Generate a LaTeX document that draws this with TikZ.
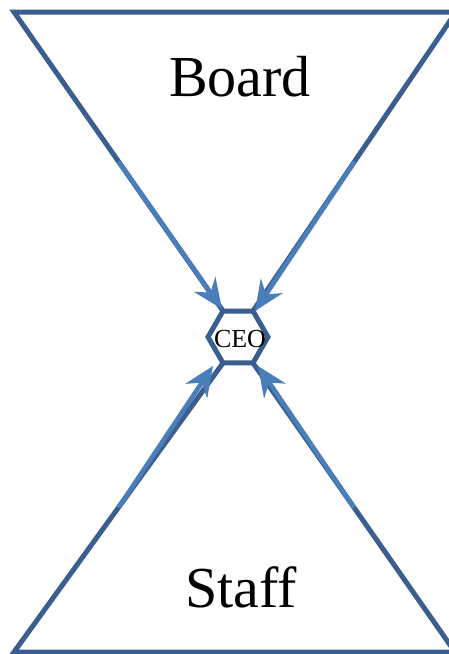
\documentclass[tikz,border=0pt]{standalone}
\usepackage{fontspec}
\setmainfont{Liberation Serif}
\usetikzlibrary{shapes.geometric,arrows.meta,calc}
\definecolor{edgeblue}{HTML}{3A5F8F}
\definecolor{arrowblue}{HTML}{4A7EBB}
\tikzset{
  edge/.style={draw=edgeblue,line width=5pt,line join=miter},
  flow/.style={draw=arrowblue,line width=4.6pt,-{Stealth[length=30pt,width=26pt,inset=10pt]}},
  hexbox/.style={regular polygon,regular polygon sides=6,minimum size=60pt,inner sep=0pt,draw=edgeblue,line width=5pt,fill=white},
  bigtext/.style={font=\fontsize{58}{60}\selectfont,anchor=base,inner sep=0pt},
  smalltext/.style={font=\fontsize{26}{28}\selectfont,anchor=base,inner sep=0pt}
}
\begin{document}
\begin{tikzpicture}[x=1pt,y=-1pt]
\useasboundingbox (0,0) rectangle (449,654);
\clip (0,0) rectangle (449,654);
% corners
\coordinate (tl) at (14,12);
\coordinate (tr) at (456,12);
\coordinate (bl) at (14,652);
\coordinate (br) at (455,652);
% hexagon vertices
\coordinate (htl) at (223,311);
\coordinate (htr) at (253,311);
\coordinate (hbl) at (223,363);
\coordinate (hbr) at (253,363);
% triangles
\path[edge] (htl) -- (tl) -- (tr) -- (htr);
\path[edge] (hbl) -- (bl) -- (br) -- (hbr);
% arrow starts and tips
\coordinate (s1) at ($(tl)!0.5!(htl)$);
\coordinate (s2) at ($(tr)!0.5!(htr)$);
\coordinate (s3) at ($(bl)!0.5!(hbl)$);
\coordinate (s4) at ($(br)!0.5!(hbr)$);
\coordinate (t1) at (222,309);
\coordinate (t2) at (255,311);
\coordinate (t3) at (213,366);
\coordinate (t4) at (258,366);
\node[hexbox] (ceo) at (238,337) {};
\path[flow] (s1) -- (t1);
\path[flow] (s2) -- (t2);
\path[flow] (s3) -- (t3);
\path[flow] (s4) -- (t4);
\node[smalltext] (ceotext) at (240,347) {CEO};
\node[bigtext] (board) at (240,96) {Board};
\node[bigtext] (staff) at (241,607) {Staff};
\end{tikzpicture}
\end{document}
